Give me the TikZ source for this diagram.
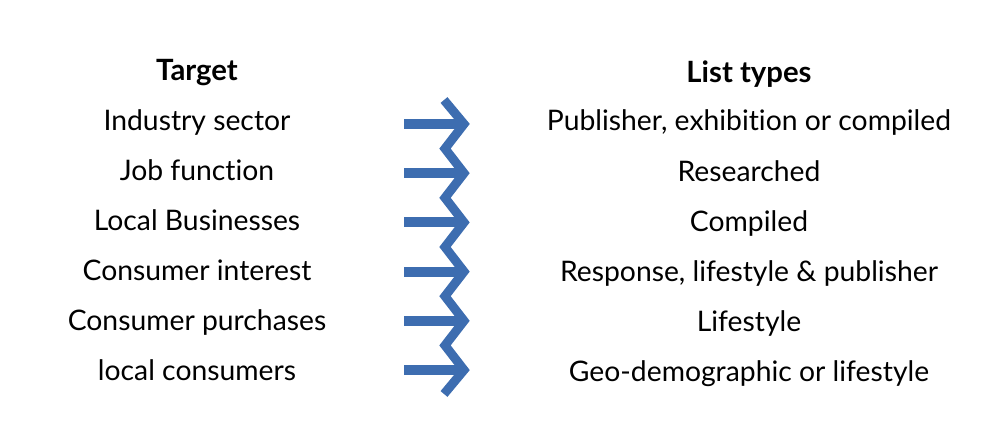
\documentclass[tikz,border=0pt]{standalone}
\usepackage{fontspec}
\setmainfont{Lato}[Ligatures={NoCommon}]
\definecolor{arrowblue}{RGB}{61,109,176}
\begin{document}
\begin{tikzpicture}[x=1pt,y=-1pt,
  lbl/.style={anchor=base,font=\fontsize{28.3}{32}\selectfont,inner sep=0pt},
  hdr/.style={lbl,font=\fontsize{29.3}{33}\selectfont\bfseries},
  shaft/.style={draw=arrowblue,line width=10pt},
  zig/.style={draw=arrowblue,line width=9pt,miter limit=10,line join=miter}]
\useasboundingbox (0,0) rectangle (1000,433);
% headers
\node[hdr] (lh) at (197,81) {Target};
\node[hdr] (rh) at (749,83) {List types};
% left column
\node[lbl] (l1) at (197,130.5) {Industry sector};
\node[lbl] (l2) at (197,180) {Job function};
\node[lbl] (l3) at (197,230) {Local Businesses};
\node[lbl] (l4) at (197,280) {Consumer interest};
\node[lbl] (l5) at (197,330) {Consumer purchases};
\node[lbl] (l6) at (197,380) {local consumers};
% right column
\node[lbl] (r1) at (749,131) {Publisher, exhibition or compiled};
\node[lbl] (r2) at (749,181) {Researched};
\node[lbl] (r3) at (749,231) {Compiled};
\node[lbl] (r4) at (749,281) {Response, lifestyle \& publisher};
\node[lbl] (r5) at (749,331) {Lifestyle};
\node[lbl] (r6) at (749,381) {Geo-demographic or lifestyle};
% arrows
\foreach \i/\y in {1/124,2/173.2,3/222.4,4/271.6,5/320.8,6/370}{
  \coordinate (s\i) at (404,\y);
  \coordinate (t\i) at (464,\y);
  \draw[shaft] (s\i) -- (t\i);
}
\coordinate (ztop) at (444,100);
\coordinate (zbot) at (444,394);
\coordinate (v1) at (445,148.6);
\coordinate (v2) at (445,197.8);
\coordinate (v3) at (445,247);
\coordinate (v4) at (445,296.2);
\coordinate (v5) at (445,345.4);
\draw[zig] (ztop) -- (t1) -- (v1) -- (t2) -- (v2) -- (t3) -- (v3) -- (t4) -- (v4) -- (t5) -- (v5) -- (t6) -- (zbot);
\end{tikzpicture}
\end{document}
